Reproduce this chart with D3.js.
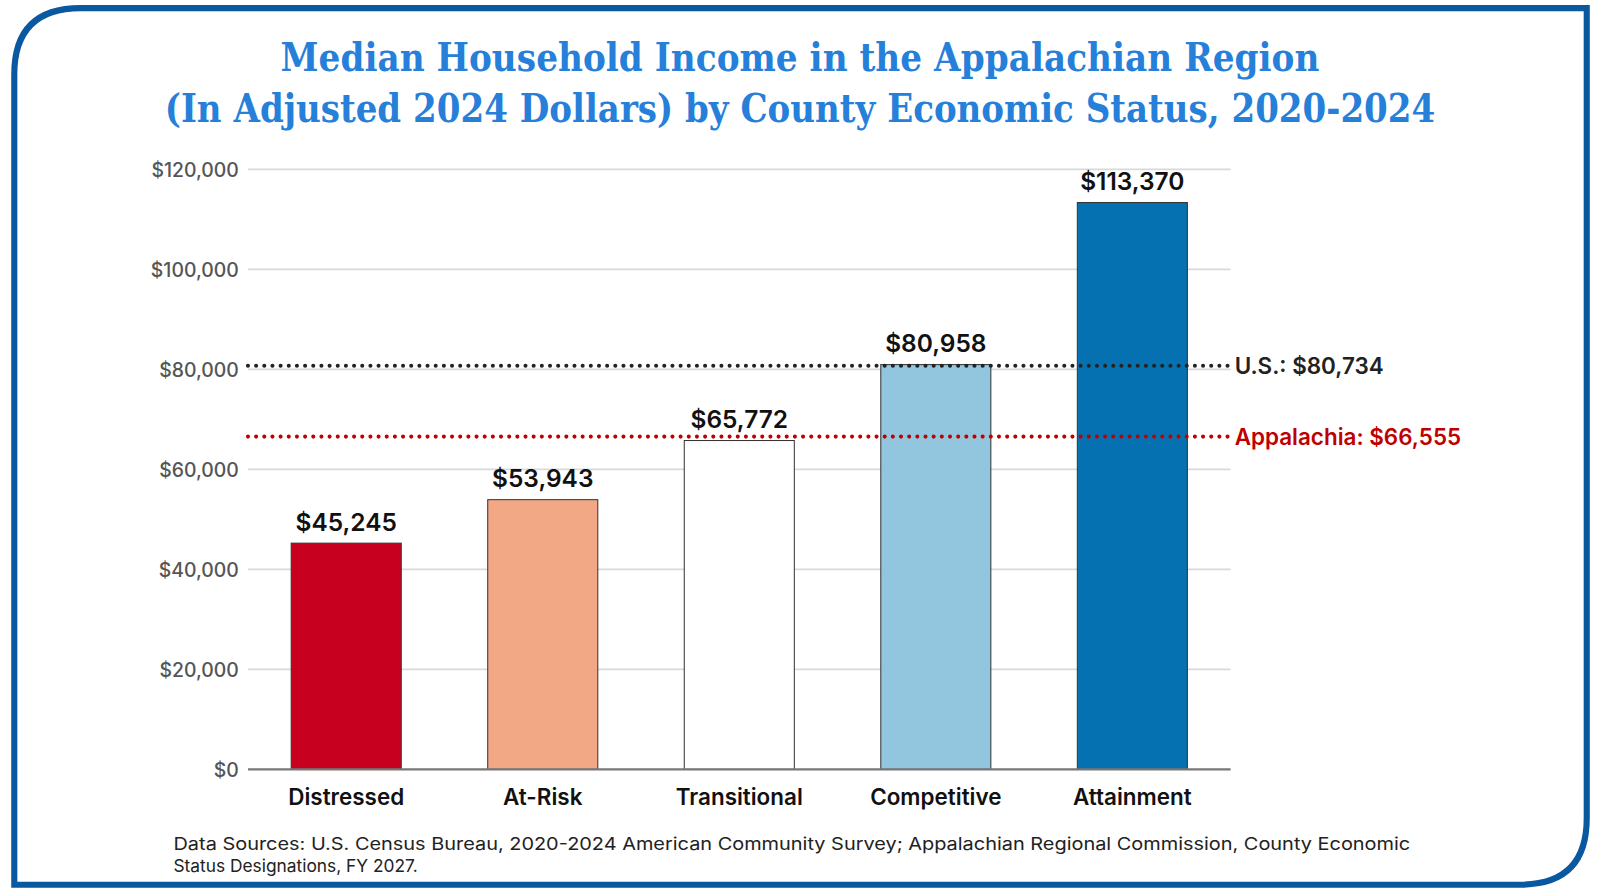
<!DOCTYPE html>
<html lang="en">
<head>
<meta charset="UTF-8">
<title>Median Household Income in the Appalachian Region</title>
<script src="https://d3js.org/d3.v7.min.js"></script>
<style>
  body { margin: 0; background: #fff; }
  svg { font-family: Inter, "Noto Sans", sans-serif; }
</style>
</head>
<body>
<script>
"use strict";
var categories = ["Distressed", "At-Risk", "Transitional", "Competitive", "Attainment"];
var values = [45245, 53943, 65772, 80958, 113370];
var barColors = ["#c8001f", "#f2a885", "#ffffff", "#92c5de", "#0571b0"];
var yTicks = [0, 20000, 40000, 60000, 80000, 100000, 120000];
var refLines = [
  {label: "U.S.: $80,734", value: 80734, color: "#222222"},
  {label: "Appalachia: $66,555", value: 66555, color: "#c00000"}
];

var W = 1600, H = 895;
var root = d3.select("body").append("svg").attr("width", W).attr("height", H);
// layout laid out on a 1568-wide grid, scaled up to the window
var svg = root.append("g").attr("transform", "scale(" + (1600 / 1568) + ")");

// frame: rounded top-left and bottom-right
svg.append("path")
  .attr("d", "M14,867 L14,73 Q14,8 79,8 L1555,8 L1555,802 Q1555,867 1490,867 Z")
  .attr("fill", "none").attr("stroke", "#0a58a0").attr("stroke-width", 6)
  .attr("stroke-linejoin", "miter");

var title = svg.append("g").attr("fill", "#2680d9")
  .style("font-family", "'DejaVu Serif', serif").style("font-weight", "bold");
title.append("text").attr("x", 784).attr("y", 70).attr("text-anchor", "middle")
  .attr("font-size", 38).attr("textLength", 1018).attr("lengthAdjust", "spacingAndGlyphs")
  .text("Median Household Income in the Appalachian Region");
title.append("text").attr("x", 784).attr("y", 120).attr("text-anchor", "middle")
  .attr("font-size", 38).attr("textLength", 1245).attr("lengthAdjust", "spacingAndGlyphs")
  .text("(In Adjusted 2024 Dollars) by County Economic Status, 2020-2024");

var x = d3.scaleBand().domain(categories).range([243, 1206]).paddingInner(0.44).paddingOuter(0.22);
var y = d3.scaleLinear().domain([0, 120000]).range([754, 166]);

// grid
svg.append("g").selectAll("line").data(yTicks.slice(1)).join("line")
  .attr("x1", 243).attr("x2", 1206).attr("y1", d => y(d)).attr("y2", d => y(d))
  .attr("stroke", "#d9d9d9").attr("stroke-width", 1.5);

svg.append("g").selectAll("text").data(yTicks).join("text")
  .attr("x", 234).attr("y", d => y(d) + 7).attr("text-anchor", "end")
  .attr("font-size", 19).attr("font-weight", 500).attr("fill", "#555")
  .text(d => d3.format("$,")(d));

// bars
svg.append("g").selectAll("rect").data(values).join("rect")
  .attr("x", (d, i) => x(categories[i])).attr("width", x.bandwidth())
  .attr("y", d => y(d)).attr("height", d => y(0) - y(d))
  .attr("fill", (d, i) => barColors[i]).attr("stroke", "#333").attr("stroke-width", 1);

svg.append("g").selectAll("text").data(values).join("text")
  .attr("x", (d, i) => x(categories[i]) + x.bandwidth() / 2).attr("y", d => y(d) - 12)
  .attr("text-anchor", "middle").attr("font-size", 24).attr("font-weight", 600).attr("fill", "#111")
  .text(d => d3.format("$,")(d));

// axis baseline
svg.append("line").attr("x1", 243).attr("x2", 1206).attr("y1", y(0)).attr("y2", y(0))
  .attr("stroke", "#777").attr("stroke-width", 2);

svg.append("g").selectAll("text").data(categories).join("text")
  .attr("x", d => x(d) + x.bandwidth() / 2).attr("y", 789).attr("text-anchor", "middle")
  .attr("font-size", 22).attr("font-weight", 600).attr("fill", "#111")
  .text(d => d);

// reference lines
var refs = svg.append("g").selectAll("g").data(refLines).join("g");
refs.append("line").attr("x1", 243).attr("x2", 1204)
  .attr("y1", d => y(d.value)).attr("y2", d => y(d.value))
  .attr("stroke", d => d.color).attr("stroke-width", 4)
  .attr("stroke-linecap", "round").attr("stroke-dasharray", "0 8");
refs.append("text").attr("x", 1210).attr("y", d => y(d.value) + 8)
  .attr("font-size", 22).attr("font-weight", 600).attr("fill", d => d.color)
  .text(d => d.label);

// source
var src = svg.append("g").attr("font-size", 17).attr("fill", "#222");
src.append("text").attr("x", 170).attr("y", 833).attr("textLength", 1212).attr("lengthAdjust", "spacingAndGlyphs")
  .text("Data Sources: U.S. Census Bureau, 2020-2024 American Community Survey; Appalachian Regional Commission, County Economic");
src.append("text").attr("x", 170).attr("y", 855).text("Status Designations, FY 2027.");
</script>
</body>
</html>
